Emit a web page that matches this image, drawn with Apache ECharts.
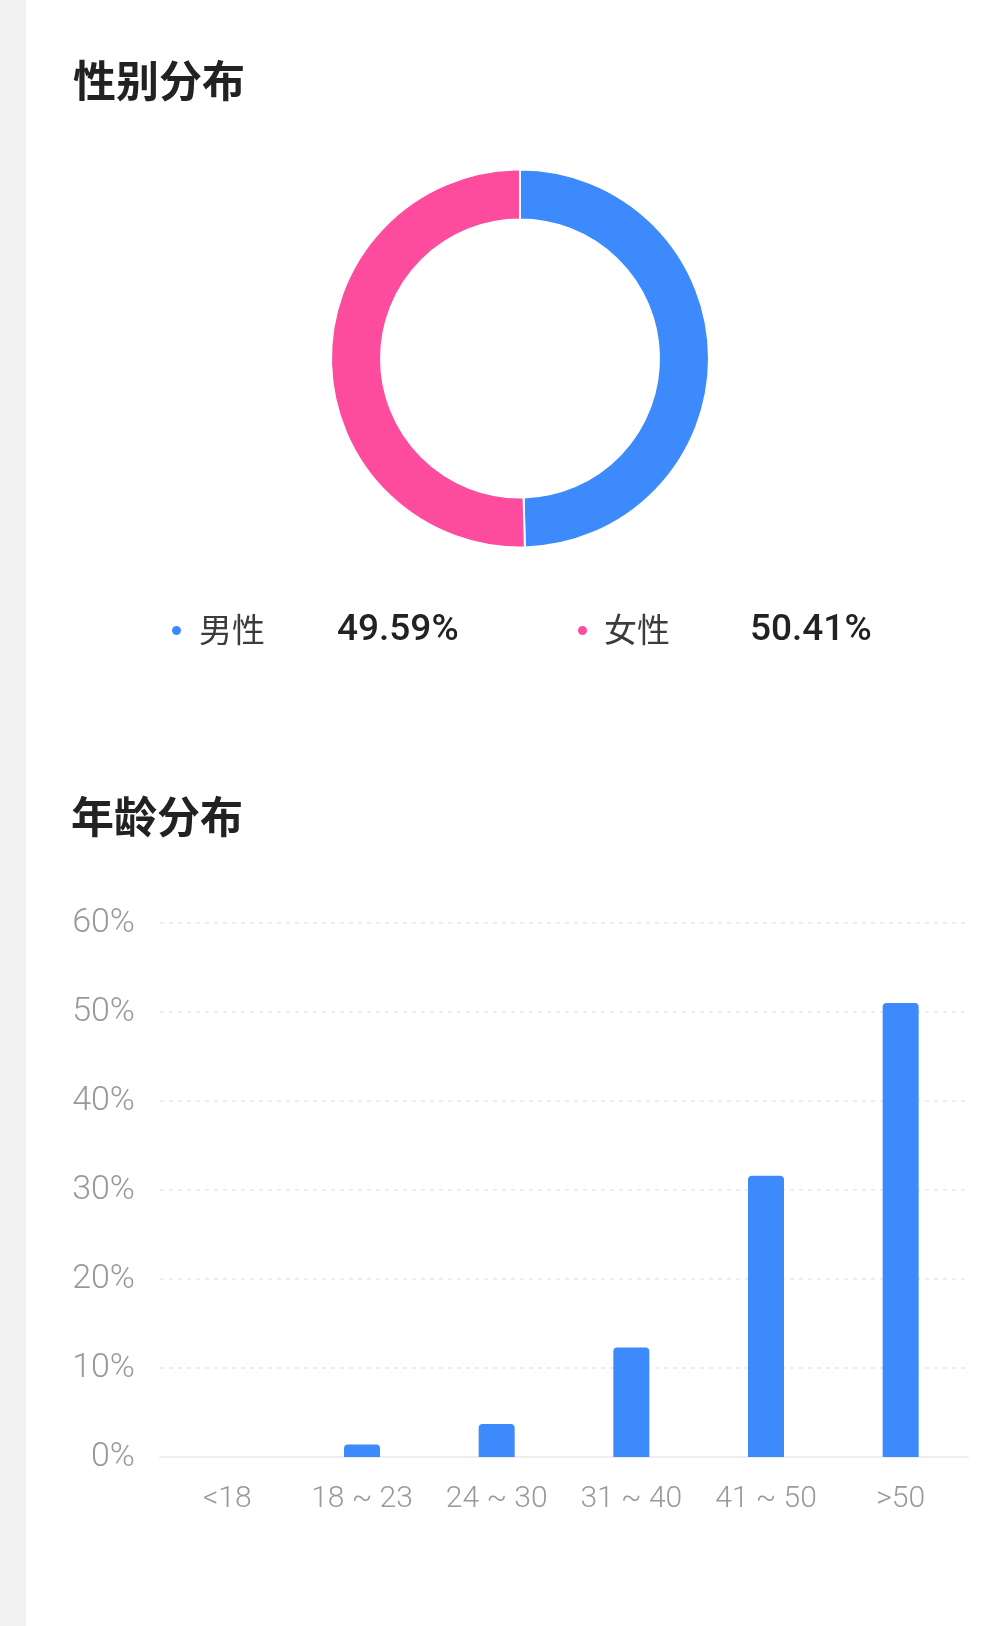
<!DOCTYPE html>
<html>
<head>
<meta charset="utf-8">
<script src="https://cdn.jsdelivr.net/npm/echarts@6/dist/echarts.min.js"></script>
<style>
html,body{margin:0;padding:0;background:#fff;}
#main{width:1008px;height:1626px;}
</style>
</head>
<body>
<div id="main"></div>
<script>
const genderTitle = '性别分布';
const ageTitle = '年龄分布';
const genderNames = ['男性', '女性'];
const genderValues = [49.59, 50.41];
const ageCategories = ['<18', '18 ~ 23', '24 ~ 30', '31 ~ 40', '41 ~ 50', '>50'];
const ageValues = [0, 1.4, 3.7, 12.3, 31.6, 51.0];

const BLUE = '#3d8afd';
const PINK = '#fd4c9e';
const CJK = '"Noto Sans CJK SC", "Noto Sans", sans-serif';
const NUM = 'Roboto, "Noto Sans", sans-serif';

const chart = echarts.init(document.getElementById('main'));
const option = {
  backgroundColor: '#ffffff',
  animation: false,
  graphic: [{
    type: 'rect', left: 0, top: 0, silent: true,
    shape: { width: 26, height: 1626 },
    style: { fill: '#f2f2f2' }
  }],
  title: [
    { text: genderTitle, left: 73, top: 59, padding: 0,
      textStyle: { fontFamily: CJK, fontSize: 43, fontWeight: 600, color: '#222' } },
    { text: ageTitle, left: 71, top: 795, padding: 0,
      textStyle: { fontFamily: CJK, fontSize: 43, fontWeight: 600, color: '#222' } }
  ],
  legend: {
    data: genderNames,
    left: 170, top: 612, padding: 0,
    orient: 'horizontal',
    icon: 'circle', itemWidth: 11, itemHeight: 11, itemGap: 116,
    selectedMode: false,
    formatter: function (name) {
      const i = genderNames.indexOf(name);
      return '{a' + i + '|' + name + '}{b|' + genderValues[i].toFixed(2) + '%}';
    },
    textStyle: {
      rich: {
        a0: { fontFamily: CJK, fontSize: 33, color: '#3c3c3c', width: 138, padding: [0, 0, 3, 12], lineHeight: 40 },
        a1: { fontFamily: CJK, fontSize: 33, color: '#3c3c3c', width: 146, padding: [0, 0, 3, 11], lineHeight: 40 },
        b: { fontFamily: NUM, fontSize: 37, fontWeight: 500, color: '#222222', width: 123, lineHeight: 40 }
      }
    }
  },
  color: [BLUE, PINK],
  grid: { left: 160, right: 40, top: 923, bottom: 169, containLabel: false },
  xAxis: {
    type: 'category',
    data: ageCategories,
    axisTick: { show: false },
    axisLine: { show: true, lineStyle: { color: '#eeeeee', width: 2 } },
    axisLabel: { margin: 27, fontFamily: NUM, fontSize: 30, fontWeight: 300, color: '#999999' }
  },
  yAxis: {
    type: 'value', min: 0, max: 60, interval: 10,
    axisLine: { show: false }, axisTick: { show: false },
    axisLabel: { margin: 25, fontFamily: NUM, fontSize: 34, fontWeight: 300, color: '#999999', formatter: '{value}%' },
    splitLine: { show: true, lineStyle: { color: '#e8e8e8', width: 1.5, type: [4, 5] } }
  },
  series: [
    {
      type: 'pie',
      center: [520, 358.5],
      radius: [139, 189],
      startAngle: 90,
      clockwise: true,
      label: { show: false },
      labelLine: { show: false },
      emphasis: { disabled: true },
      itemStyle: { borderColor: '#ffffff', borderWidth: 2 },
      data: genderNames.map((n, i) => ({ name: n, value: genderValues[i] }))
    },
    {
      type: 'bar',
      data: ageValues,
      barWidth: 36,
      itemStyle: { color: BLUE, borderRadius: [4, 4, 0, 0] },
      emphasis: { disabled: true }
    }
  ]
};
chart.setOption(option);
</script>
</body>
</html>
